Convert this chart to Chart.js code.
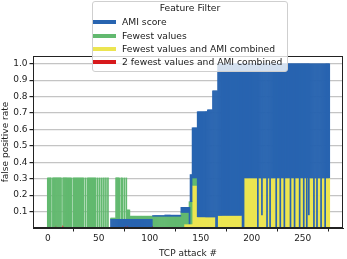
<!DOCTYPE html>
<html lang="en">
<head>
<meta charset="UTF-8">
<title>False positive rate per TCP attack</title>
<script src="https://cdn.jsdelivr.net/npm/chart.js"></script>
<style>
  html, body { margin: 0; padding: 0; background: #fff; }
  #wrap { position: relative; width: 347px; height: 259px; }
  #legend { position: absolute; left: 92px; top: 1px; width: 194px; height: 69px;
            background: rgba(255,255,255,0.8); border: 1px solid #cfcfcf; border-radius: 3px;
            font: 9.2px "DejaVu Sans", sans-serif; color: #1a1a1a; }
  #legend .title { position: absolute; left: 0; right: 0; top: 0px; height: 12px; line-height: 12px; text-align: center; }
  #legend .row { position: absolute; left: 0; right: 0; height: 12px; line-height: 12px; }
  #legend .swatch { position: absolute; left: 0px; top: 4px; width: 23px; height: 4px; }
  #legend .label { position: absolute; left: 29px; white-space: nowrap; }
</style>
</head>
<body>
<div id="wrap">
  <canvas id="fprChart" width="347" height="259"></canvas>
  <div id="legend"><div class="title">Feature Filter</div></div>
</div>
<script>
// attacks are numbered 0..276
const attackCount = 277;
const xTicks = [0, 50, 100, 150, 200, 250];
const yTicks = [0.1, 0.2, 0.3, 0.4, 0.5, 0.6, 0.7, 0.8, 0.9, 1.0];

const seriesNames = ['AMI score', 'Fewest values', 'Fewest values and AMI combined', '2 fewest values and AMI combined'];
const seriesColors = ['#2864b0', '#62b96f', '#ece551', '#d7191c'];

// [first attack #, false positive rate] - value holds until the next entry
const amiSteps = [[0, 0], [62, 0.053], [103, 0.075], [115, 0.078], [131, 0.126], [140, 0.325],
                  [142, 0.61], [147, 0.708], [157, 0.72], [162, 0.835], [167, 1.0]];
const amiGaps = [];

const fewestSteps = [[0, 0.305], [62, 0.06], [67, 0.305], [78, 0.11], [81, 0.072], [131, 0.095],
                     [139, 0.16], [142, 0.305], [147, 0]];
const fewestGaps = [4, 14, 24, 36, 38, 48, 50, 52, 54, 56, 58, 60, 61, 71, 74, 76];

const combinedSteps = [[0, 0], [134, 0.025], [142, 0.26], [147, 0.068], [165, 0], [167, 0.077],
                       [191, 0], [193, 0.305], [210, 0.08], [211, 0.305], [256, 0.08], [257, 0.305]];
const combinedGaps = [206, 215, 218, 224, 228, 232, 238, 242, 247, 251, 254, 261, 264, 268, 272];

const twoFewestSteps = [[0, 0], [8, 0.015], [9, 0], [15, 0.015], [16, 0], [76, 0.015], [77, 0],
                        [78, 0.015], [79, 0], [103, 0.015], [104, 0]];
const twoFewestGaps = [];

function expand(steps, gaps) {
    let vals = [];
    let k = 0;
    for (let i = 0; i < attackCount; i++) {
        while (k + 1 < steps.length && steps[k + 1][0] <= i) k++;
        vals.push(steps[k][1]);
    }
    gaps.forEach(i => { vals[i] = 0; });
    return vals;
}

let series = [
    expand(amiSteps, amiGaps),
    expand(fewestSteps, fewestGaps),
    expand(combinedSteps, combinedGaps),
    expand(twoFewestSteps, twoFewestGaps)
];

// shorter bars sit in front of taller ones, so each bar only shows above the next lower value
let datasets = series.map((vals, si) => {
    let bars = [];
    vals.forEach((v, i) => {
        if (v <= 0) return;
        let lo = 0;
        series.forEach((other, oi) => {
            let u = other[i];
            if (oi !== si && u < v && u > lo) lo = u;
        });
        bars.push({ x: i, y: [lo, v] });
    });
    return {
        label: seriesNames[si],
        data: bars,
        backgroundColor: seriesColors[si],
        borderWidth: 0,
        grouped: false,
        barPercentage: 1,
        categoryPercentage: 1
    };
});

// legend box drawn over the plot like the original
let legend = document.getElementById('legend');
seriesNames.forEach((name, i) => {
    let row = document.createElement('div');
    row.className = 'row';
    row.style.top = (14.3 + i * 13.3) + 'px';
    row.innerHTML = '<span class="swatch" style="background:' + seriesColors[i] + '"></span><span class="label"></span>';
    row.querySelector('.label').textContent = name;
    legend.appendChild(row);
});

const font = { family: 'DejaVu Sans', size: 9 };
const textColor = '#222';

const frame = {
    id: 'frame',
    afterDraw(chart) {
        const a = chart.chartArea;
        const c = chart.ctx;
        c.save();
        c.strokeStyle = '#222';
        c.lineWidth = 1;
        c.strokeRect(Math.round(a.left) + 0.5, Math.round(a.top) + 0.5,
                     Math.round(a.right - a.left) - 1, Math.round(a.bottom - a.top) - 1);
        c.restore();
    }
};

new Chart(document.getElementById('fprChart'), {
    type: 'bar',
    data: { datasets: datasets },
    plugins: [frame],
    options: {
        responsive: false,
        animation: false,
        layout: { padding: { top: 56, right: 4, left: 0, bottom: 0 } },
        plugins: { legend: { display: false }, tooltip: { enabled: false } },
        scales: {
            x: {
                type: 'linear', min: -14.5, max: 289.5, offset: false, z: 1,
                afterBuildTicks: s => { s.ticks = xTicks.map(v => ({ value: v })); },
                afterFit: s => { s.height = 31; },
                grid: { drawOnChartArea: false, tickLength: 3.5, tickColor: '#222' },
                border: { color: '#222', width: 1 },
                ticks: { font: font, color: textColor, padding: 2, maxRotation: 0, autoSkip: false,
                         callback: v => String(v) },
                title: { display: true, text: 'TCP attack #', font: font, color: textColor,
                         padding: { top: 2, bottom: 0 } }
            },
            y: {
                min: 0, max: 1.047, z: 1,
                afterBuildTicks: s => { s.ticks = yTicks.map(v => ({ value: v })); },
                afterFit: s => { s.width = 33; },
                grid: { color: 'rgba(176,176,176,0.75)', lineWidth: 1.2, tickLength: 3.5, tickColor: '#222' },
                border: { color: '#222', width: 1 },
                ticks: { font: font, color: textColor, padding: 2, autoSkip: false,
                         callback: v => v.toFixed(1) },
                title: { display: true, text: 'false positive rate', font: font, color: textColor,
                         padding: { top: 0.5, bottom: 0 } }
            }
        }
    }
});
</script>
</body>
</html>
